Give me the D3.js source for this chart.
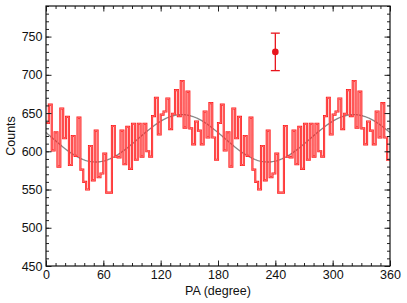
<!DOCTYPE html>
<html><head><meta charset="utf-8">
<script src="https://cdn.jsdelivr.net/npm/d3@7"></script>
<style>
body{margin:0;background:#fff;}
svg{display:block;font-family:"Liberation Sans",Arial,sans-serif;}
</style></head>
<body><svg id="c" width="407" height="303"></svg>
<script>
// Data: counts per 3-degree PA bin for 0-180 deg (the plot shows this folded pattern twice, 0-360)
const binWidth = 3;
const countsHalf = [637,661,601,625,580,656,617,645,582,620,594,644,576,560,550,607,562,627,566,571,
  597,546,546,633,593,592,627,583,632,577,636,589,636,593,636,600,593,646,670,622,
  648,652,669,629,649,680,646,692,631,678,630,609,639,627,609,652,618,663,618,589];
const counts = countsHalf.concat(countsHalf);
// Fitted modulation curve parameters
const fitMean = 617, fitAmp = 31, fitPhaseDeg = 142;
// Single point with error bar
const pointPA = [240], pointVal = [730], pointErr = [24.5];
const xTicks = [0,60,120,180,240,300,360];
const yTicks = [450,500,550,600,650,700,750];

const svg = d3.select("#c");
const L=46,R=390,T=6,B=266;
const x = d3.scaleLinear().domain([0,360]).range([L,R]);
const y = d3.scaleLinear().domain([450,790]).range([B,T]);

// fit curve
const fitPts = d3.range(0,360.5,1).map(a=>[a, fitMean + fitAmp*Math.cos(2*(a-fitPhaseDeg)*Math.PI/180)]);
svg.append("path").datum(fitPts)
  .attr("d", d3.line().x(d=>x(d[0])).y(d=>y(d[1])))
  .attr("fill","none").attr("stroke","#888").attr("stroke-width",1.3);

// step histogram
const stepPts = counts.map((c,i)=>[i*binWidth, c]);
stepPts.push([counts.length*binWidth, counts[counts.length-1]]);
const stepLine = d3.line().x(d=>x(d[0])).y(d=>y(d[1])).curve(d3.curveStepAfter);
svg.append("path").datum(stepPts).attr("d",stepLine)
  .attr("fill","none").attr("stroke","#ff1a1a").attr("stroke-width",2.1).attr("stroke-linejoin","miter");
svg.append("path").datum(stepPts).attr("d",stepLine)
  .attr("fill","none").attr("stroke","#ffa0a0").attr("stroke-width",0.6).attr("stroke-linejoin","miter");

// error bar point
const eg = svg.append("g");
pointPA.forEach((p,i)=>{
  const cx=x(p);
  eg.append("line").attr("x1",cx).attr("x2",cx).attr("y1",y(pointVal[i]+pointErr[i])).attr("y2",y(pointVal[i]-pointErr[i]))
    .attr("stroke","#e8141c").attr("stroke-width",1.3);
  [pointVal[i]+pointErr[i], pointVal[i]-pointErr[i]].forEach(v=>{
    eg.append("line").attr("x1",cx-4.5).attr("x2",cx+4.5).attr("y1",y(v)).attr("y2",y(v))
      .attr("stroke","#e8141c").attr("stroke-width",1.3);
  });
  eg.append("circle").attr("cx",cx).attr("cy",y(pointVal[i])).attr("r",3.3).attr("fill","#e8141c");
});

// axes
const xMinor = d3.range(0,361,10), yMinor = d3.range(450,791,10);
function styleAxis(g){
  g.selectAll("path.domain").remove();
  g.selectAll("line").attr("stroke","#222").attr("stroke-width",1);
  g.selectAll("text").attr("fill","#111").style("font-size","12.5px").style("font-family","Liberation Sans, Arial, sans-serif");
}
// minor
svg.append("g").attr("transform",`translate(0,${B})`).call(d3.axisBottom(x).tickValues(xMinor).tickSize(-3).tickFormat("")).call(styleAxis);
svg.append("g").attr("transform",`translate(0,${T})`).call(d3.axisTop(x).tickValues(xMinor).tickSize(-3).tickFormat("")).call(styleAxis);
svg.append("g").attr("transform",`translate(${L},0)`).call(d3.axisLeft(y).tickValues(yMinor).tickSize(-3).tickFormat("")).call(styleAxis);
svg.append("g").attr("transform",`translate(${R},0)`).call(d3.axisRight(y).tickValues(yMinor).tickSize(-3).tickFormat("")).call(styleAxis);
// major
svg.append("g").attr("transform",`translate(0,${B})`).call(d3.axisBottom(x).tickValues(xTicks).tickSize(-5.5).tickPadding(4).tickFormat(d3.format("d"))).call(styleAxis);
svg.append("g").attr("transform",`translate(0,${T})`).call(d3.axisTop(x).tickValues(xTicks).tickSize(-5.5).tickFormat("")).call(styleAxis);
svg.append("g").attr("transform",`translate(${L},0)`).call(d3.axisLeft(y).tickValues(yTicks).tickSize(-5.5).tickPadding(3.5).tickFormat(d3.format("d"))).call(styleAxis);
svg.append("g").attr("transform",`translate(${R},0)`).call(d3.axisRight(y).tickValues(yTicks).tickSize(-5.5).tickFormat("")).call(styleAxis);

// frame
svg.append("rect").attr("x",L).attr("y",T).attr("width",R-L).attr("height",B-T)
  .attr("fill","none").attr("stroke","#111").attr("stroke-width",1.2);

// labels
svg.append("text").attr("x",(L+R)/2).attr("y",294.5).attr("text-anchor","middle")
  .style("font-size","12.5px").attr("fill","#111").text("PA (degree)");
svg.append("text").attr("transform",`translate(15,${(T+B)/2}) rotate(-90)`).attr("text-anchor","middle")
  .style("font-size","12.5px").attr("fill","#111").text("Counts");
</script></body></html>
